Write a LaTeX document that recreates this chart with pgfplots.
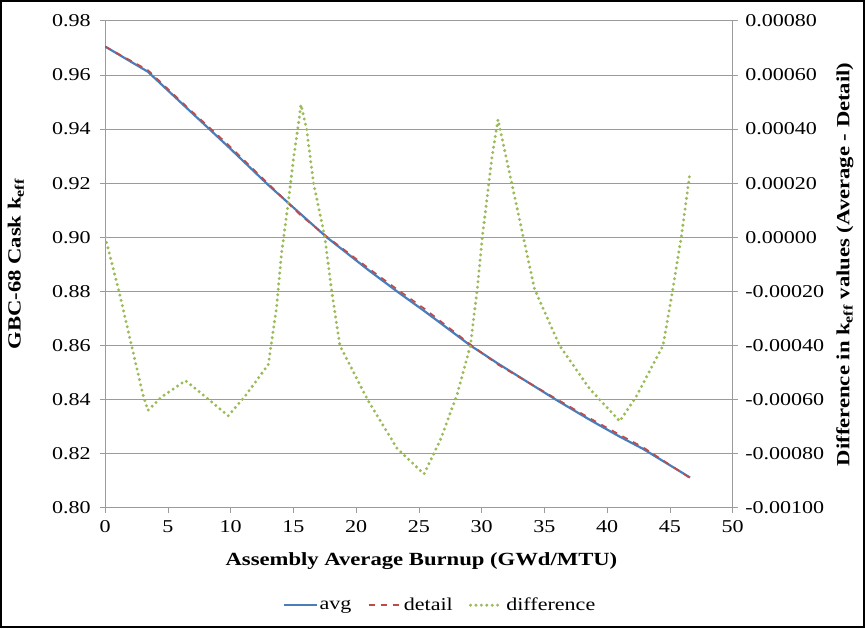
\documentclass[border=0pt]{standalone}
\usepackage{pgfplots}
\pgfplotsset{compat=1.18}
\usepackage{fontspec}
\setmainfont{Liberation Serif}[FakeStretch=1.22]
\definecolor{cavg}{HTML}{4A7EBB}
\definecolor{cdet}{HTML}{BE4B48}
\definecolor{cdif}{HTML}{9BBB59}
\definecolor{cgrid}{RGB}{155,155,155}
\begin{document}
\begin{tikzpicture}
\begin{axis}[
  name=ax1,
  scale only axis, width=625pt, height=485pt,
  xmin=0, xmax=50, ymin=0.80, ymax=0.98,
  xtick={0,5,10,15,20,25,30,35,40,45,50},
  xticklabels={0,5,10,15,20,25,30,35,40,45,50},
  ytick={0.80,0.82,0.84,0.86,0.88,0.90,0.92,0.94,0.96,0.98},
  yticklabels={0.80,0.82,0.84,0.86,0.88,0.90,0.92,0.94,0.96,0.98},
  scaled y ticks=false,
  tick align=outside, tick pos=left,
  major tick length=5pt,
  tick style={cgrid, line width=0.8pt},
  axis line style={cgrid, line width=0.8pt},
  ymajorgrids, grid style={cgrid, line width=0.9pt},
  ticklabel style={font=\fontsize{18}{20}\selectfont},
  xticklabel style={yshift=-4pt},
  yticklabel style={xshift=-6pt},
  xlabel={\bfseries Assembly Average Burnup (GWd/MTU)},
  ylabel={\bfseries GBC-68 Cask k\textsubscript{eff}},
  label style={font=\fontsize{18.5}{20}\selectfont\bfseries},
  xlabel style={at={(axis description cs:0.504,-0.109)}, anchor=center},
  ylabel style={at={(axis description cs:-0.1424,0.5)}, anchor=center, rotate=0},
]
\addplot[cavg, line width=2.2pt] coordinates {
(0,0.9705) (3.4,0.9612) (6.4,0.9482) (9.8,0.9335) (13.0,0.9193) (15.6,0.9085)
(17.65,0.9000) (21.0,0.8878) (23.25,0.8800) (25.5,0.8725) (29.1,0.8600)
(31.3,0.8533) (35.9,0.8400) (38.7,0.8323) (41.0,0.8263) (42.85,0.8218) (46.6,0.8112)};
\addplot[cdet, line width=1.6pt, dash pattern=on 6pt off 6pt] coordinates {
(0,0.9705) (3.4,0.9618) (6.4,0.9487) (9.8,0.9342) (13.0,0.9198) (15.6,0.9080)
(17.65,0.9003) (21.0,0.8885) (23.25,0.8808) (25.5,0.8734) (29.1,0.8604)
(31.3,0.8529) (35.9,0.8404) (38.7,0.8329) (41.0,0.8270) (42.85,0.8224) (46.6,0.8110)};
\end{axis}
\begin{axis}[
  name=ax2,
  scale only axis, width=625pt, height=485pt,
  xmin=0, xmax=50, ymin=-0.001, ymax=0.0008,
  axis x line=none,
  axis y line*=right,
  ytick={-0.001,-0.0008,-0.0006,-0.0004,-0.0002,0,0.0002,0.0004,0.0006,0.0008},
  yticklabels={-0.00100,-0.00080,-0.00060,-0.00040,-0.00020,0.00000,0.00020,0.00040,0.00060,0.00080},
  scaled y ticks=false,
  tick align=outside,
  major tick length=5pt,
  tick style={cgrid, line width=0.8pt},
  axis line style={cgrid, line width=0.8pt},
  ticklabel style={font=\fontsize{18}{20}\selectfont},
  yticklabel style={xshift=4pt},
  ylabel={\bfseries Difference in k\textsubscript{eff} values (Average - Detail)},
  label style={font=\fontsize{18.5}{20}\selectfont\bfseries},
  ylabel style={at={(axis description cs:1.179,0.5)}, anchor=center, rotate=0},
  legend columns=3,
  legend style={draw=none, fill=none, at={(axis description cs:0.534,-0.2)}, anchor=center,
    font=\fontsize{18}{20}\selectfont,
    /tikz/every even column/.append style={column sep=14pt}},
  legend image code/.code={\draw[#1] (0pt,0pt) -- (32pt,0pt);},
]
\addlegendimage{cavg, line width=2.2pt}
\addlegendentry{avg}
\addlegendimage{cdet, line width=2.2pt, dash pattern=on 6pt off 6pt}
\addlegendentry{detail}
\addplot[cdif, line width=3.3pt, line cap=round, dash pattern=on 0pt off 5.4pt] coordinates {
(0,0.0) (1.1,-0.0002) (2.1,-0.0004) (3.0,-0.00058) (3.4,-0.00064) (4.5,-0.00059)
(6.4,-0.00053) (8.0,-0.00059) (9.8,-0.00066) (11.1,-0.00059) (13.0,-0.00047)
(13.65,-0.00026) (14.05,-0.00006) (14.6,0.000134) (15.0,0.00029) (15.4,0.00042) (15.6,0.00049)
(16.05,0.0004) (16.6,0.0002) (17.5,0.0) (18.05,-0.0002) (18.7,-0.0004) (20.9,-0.0006)
(23.25,-0.00078) (25.4,-0.000875) (26.7,-0.00075) (28.05,-0.00058) (29.1,-0.0004)
(29.65,-0.00019) (30.05,0.0) (30.8,0.00029) (31.3,0.000435) (32.3,0.00022) (34.2,-0.00019)
(36.2,-0.0004) (38.6,-0.00056) (41.0,-0.00068) (42.3,-0.00059) (44.45,-0.0004)
(45.2,-0.0002) (45.9,0.0) (46.6,0.00024)};
\addlegendentry{difference}
\end{axis}
\draw[line width=1.6pt] ([xshift=-104pt,yshift=-119pt]ax1.south west) rectangle ([xshift=131pt,yshift=20pt]ax1.north east);
\end{tikzpicture}
\end{document}
